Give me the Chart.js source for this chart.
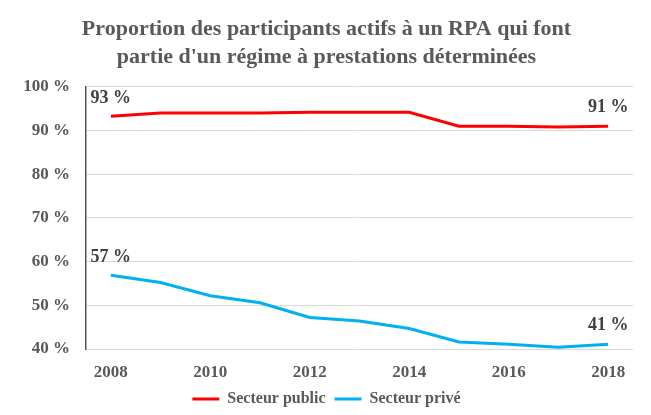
<!DOCTYPE html>
<html>
<head>
<meta charset="utf-8">
<script src="https://cdn.jsdelivr.net/npm/chart.js@4/dist/chart.umd.min.js"></script>
<style>
html,body{margin:0;padding:0;background:#fff;}
#wrap{width:651px;height:415px;}
</style>
</head>
<body>
<div id="wrap"><canvas id="c" width="651" height="415"></canvas></div>
<script>
const years = ['2008','2009','2010','2011','2012','2013','2014','2015','2016','2017','2018'];
const publicValues = [93.3, 94.0, 94.0, 94.0, 94.2, 94.2, 94.2, 91.0, 91.0, 90.8, 91.0];
const privateValues = [56.9, 55.2, 52.2, 50.6, 47.2, 46.4, 44.7, 41.6, 41.1, 40.4, 41.1];
const seriesNames = ['Secteur public', 'Secteur privé'];
const seriesColors = ['#ff0000', '#00b0f0'];
const titleLines = ["Proportion des participants actifs à un RPA qui font", "partie d'un régime à prestations déterminées"];
const endLabels = [['93 %', '91 %'], ['57 %', '41 %']];
const yTicks = [40, 50, 60, 70, 80, 90, 100];

const FONT = "'Liberation Serif', 'Times New Roman', serif";
const GREY = '#595959';

const endLabelPlugin = {
  id: 'endLabels',
  afterDatasetsDraw(chart) {
    const ctx = chart.ctx;
    ctx.save();
    ctx.font = 'bold 18px ' + FONT;
    ctx.fillStyle = '#404040';
    ctx.textAlign = 'center';
    ctx.textBaseline = 'middle';
    chart.data.datasets.forEach((ds, di) => {
      const meta = chart.getDatasetMeta(di);
      const first = meta.data[0];
      const last = meta.data[meta.data.length - 1];
      ctx.fillText(endLabels[di][0], first.x, first.y - 18);
      ctx.fillText(endLabels[di][1], last.x, last.y - 19);
    });
    ctx.restore();
  }
};

new Chart(document.getElementById('c'), {
  type: 'line',
  data: {
    labels: years,
    datasets: [
      { label: seriesNames[0], data: publicValues, borderColor: seriesColors[0], backgroundColor: seriesColors[0], borderWidth: 3, pointRadius: 0, tension: 0 },
      { label: seriesNames[1], data: privateValues, borderColor: seriesColors[1], backgroundColor: seriesColors[1], borderWidth: 3, pointRadius: 0, tension: 0 }
    ]
  },
  options: {
    responsive: false,
    animation: false,
    layout: { padding: { left: 20, right: 18, top: 0, bottom: -2 } },
    plugins: {
      title: {
        display: true,
        text: titleLines,
        color: GREY,
        font: { family: FONT, size: 22, weight: 'bold', lineHeight: 1.27 },
        padding: { top: 15, bottom: 16 }
      },
      legend: {
        position: 'bottom',
        labels: {
          color: GREY,
          font: { family: FONT, size: 16, weight: 'bold' },
          boxWidth: 27,
          boxHeight: 3,
          padding: 9,
          generateLabels(chart) {
            return chart.data.datasets.map((ds, i) => ({
              text: ds.label,
              fillStyle: ds.borderColor,
              strokeStyle: ds.borderColor,
              lineWidth: 0,
              fontColor: GREY,
              datasetIndex: i,
              hidden: false
            }));
          }
        }
      },
      tooltip: { enabled: false }
    },
    scales: {
      x: {
        offset: true,
        grid: { display: false, drawTicks: false },
        border: { display: false },
        afterFit(axis) { axis.height = 33; },
        ticks: {
          color: GREY,
          font: { family: FONT, size: 17, weight: 'bold' },
          maxRotation: 0,
          autoSkip: false,
          padding: 13,
          callback(v, i) { return i % 2 === 0 ? years[i] : ''; }
        }
      },
      y: {
        min: yTicks[0],
        max: yTicks[yTicks.length - 1],
        grid: { color: '#d9d9d9', lineWidth: 1, drawTicks: false },
        border: { display: true, color: '#555555', width: 1.5 },
        afterFit(axis) { axis.width = 66; },
        afterBuildTicks(axis) { axis.ticks = yTicks.map(v => ({ value: v })); },
        ticks: {
          color: GREY,
          font: { family: FONT, size: 17, weight: 'bold' },
          padding: 16,
          callback(v) { return v + ' %'; }
        }
      }
    }
  },
  plugins: [endLabelPlugin]
});
</script>
</body>
</html>
